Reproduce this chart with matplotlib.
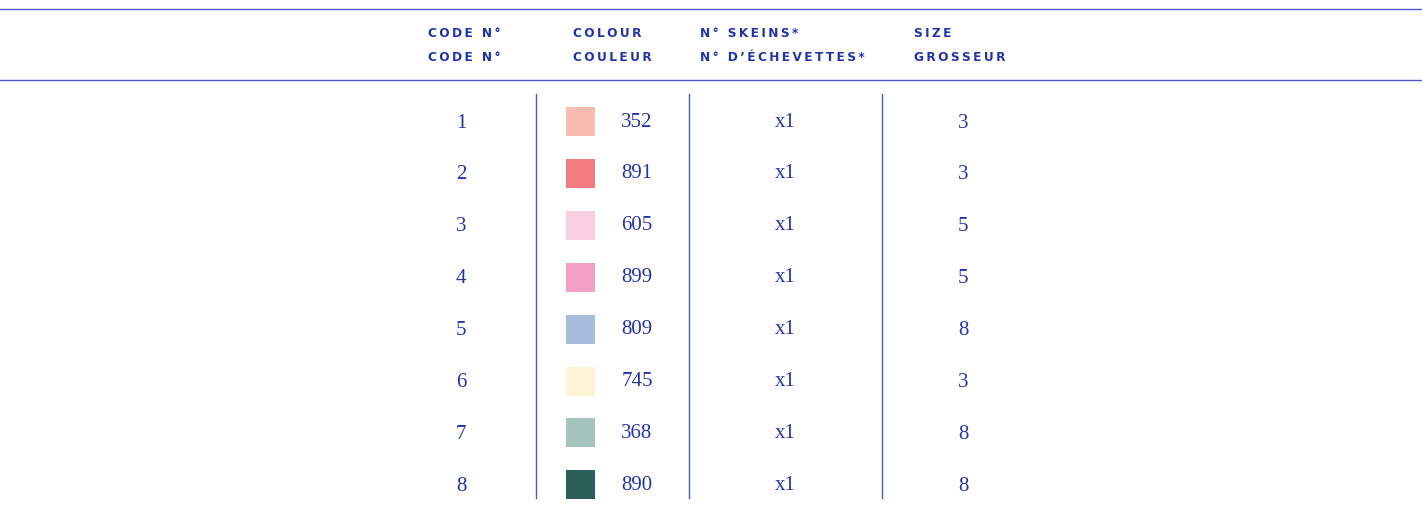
import matplotlib.pyplot as plt
from matplotlib.patches import Rectangle

# table data
codes = [1, 2, 3, 4, 5, 6, 7, 8]
colour_numbers = ["352", "891", "605", "899", "809", "745", "368", "890"]
swatch_colors = ["#f8bcb0", "#f47c80", "#f9d0e2", "#f4a0c4",
                 "#a8bcdc", "#fff5d6", "#a5c4bb", "#2c5f58"]
skeins = ["x1"] * 8
sizes = [3, 3, 5, 5, 8, 3, 8, 8]

header_en = ["CODE N°", "COLOUR", "N° SKEINS*", "SIZE"]
header_fr = ["CODE N°", "COULEUR", "N° D’ÉCHEVETTES*", "GROSSEUR"]

text_color = "#2233aa"
line_color = "#4a5ac4"

W, H = 1422, 509
fig = plt.figure(figsize=(W / 100, H / 100), dpi=100)
ax = fig.add_axes([0, 0, 1, 1])
ax.set_xlim(0, W)
ax.set_ylim(H, 0)
ax.axis("off")


def spaced(s):
    # fake letter spacing with thin spaces
    return "\u2009".join(s)


# header rules
ax.axhline(9, color=line_color, linewidth=1)
ax.axhline(80, color=line_color, linewidth=1)

header_x = [428, 573, 700, 914]
for x, en, fr in zip(header_x, header_en, header_fr):
    ax.text(x, 33, spaced(en), fontsize=8.7, color=text_color, ha="left",
            va="center", family="DejaVu Sans", fontweight="bold")
    ax.text(x, 57, spaced(fr), fontsize=8.7, color=text_color, ha="left",
            va="center", family="DejaVu Sans", fontweight="bold")

# column separators
for x in [536, 689, 882]:
    ax.plot([x, x], [94, 498], color=line_color, linewidth=1)

y0, dy = 122, 51.9
for i in range(len(codes)):
    y = y0 + i * dy
    kw = dict(fontsize=15, color=text_color, va="center", ha="center",
              family="Liberation Serif")
    ax.text(461, y + 1, str(codes[i]), **kw)
    ax.add_patch(Rectangle((566, y - 15), 29, 29, color=swatch_colors[i], lw=0))
    ax.text(637, y, colour_numbers[i], **kw)
    ax.text(785, y, skeins[i], **kw)
    ax.text(963, y + 1, str(sizes[i]), **kw)

fig.savefig("out.png", dpi=100)
